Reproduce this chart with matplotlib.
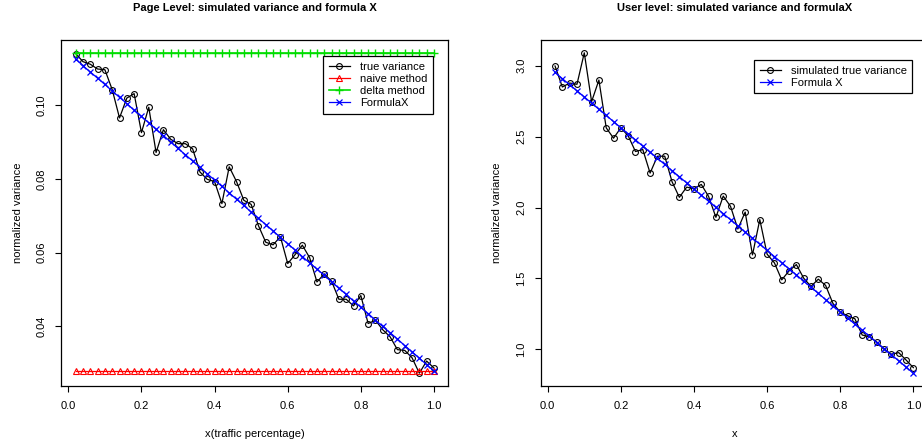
import matplotlib
matplotlib.use("Agg")
import matplotlib.pyplot as plt

plt.rcParams['font.family'] = ['Liberation Sans', 'DejaVu Sans']

x = [0.02, 0.04, 0.06, 0.08, 0.10, 0.12, 0.14, 0.16, 0.18, 0.20,
     0.22, 0.24, 0.26, 0.28, 0.30, 0.32, 0.34, 0.36, 0.38, 0.40,
     0.42, 0.44, 0.46, 0.48, 0.50, 0.52, 0.54, 0.56, 0.58, 0.60,
     0.62, 0.64, 0.66, 0.68, 0.70, 0.72, 0.74, 0.76, 0.78, 0.80,
     0.82, 0.84, 0.86, 0.88, 0.90, 0.92, 0.94, 0.96, 0.98, 1.00]

# Left panel (page level)
page_true = [0.1141, 0.1119, 0.1112, 0.1099, 0.1097, 0.1043, 0.0966, 0.1020, 0.1032, 0.0926,
             0.0995, 0.0872, 0.0934, 0.0908, 0.0896, 0.0896, 0.0882, 0.0819, 0.0799, 0.0793,
             0.0733, 0.0833, 0.0793, 0.0742, 0.0731, 0.0673, 0.0628, 0.0621, 0.0643, 0.0570,
             0.0594, 0.0620, 0.0586, 0.0520, 0.0542, 0.0522, 0.0473, 0.0473, 0.0455, 0.0483,
             0.0407, 0.0416, 0.0390, 0.0371, 0.0336, 0.0334, 0.0314, 0.0272, 0.0305, 0.0286]
page_naive = [0.0278] * 50
page_delta = [0.1143] * 50
page_formula = [0.1126, 0.1108, 0.1091, 0.1074, 0.1057, 0.1039, 0.1022, 0.1005, 0.0987, 0.0970,
                0.0953, 0.0935, 0.0918, 0.0901, 0.0883, 0.0866, 0.0849, 0.0832, 0.0814, 0.0797,
                0.0780, 0.0762, 0.0745, 0.0728, 0.0710, 0.0693, 0.0676, 0.0659, 0.0641, 0.0624,
                0.0607, 0.0589, 0.0572, 0.0555, 0.0538, 0.0520, 0.0503, 0.0486, 0.0468, 0.0451,
                0.0434, 0.0416, 0.0399, 0.0382, 0.0365, 0.0347, 0.0330, 0.0313, 0.0295, 0.0278]

# Right panel (user level)
user_true = [2.998, 2.850, 2.878, 2.869, 3.091, 2.747, 2.899, 2.562, 2.489, 2.562,
             2.506, 2.395, 2.409, 2.243, 2.362, 2.362, 2.182, 2.072, 2.144, 2.133,
             2.163, 2.078, 1.931, 2.081, 2.008, 1.849, 1.968, 1.666, 1.915, 1.671,
             1.610, 1.490, 1.553, 1.598, 1.502, 1.444, 1.495, 1.451, 1.324, 1.263,
             1.237, 1.216, 1.101, 1.089, 1.052, 1.001, 0.966, 0.977, 0.925, 0.871]
user_formula = [2.953, 2.909, 2.866, 2.823, 2.780, 2.736, 2.693, 2.650, 2.606, 2.563,
                2.520, 2.477, 2.433, 2.390, 2.347, 2.304, 2.260, 2.217, 2.174, 2.130,
                2.087, 2.044, 2.001, 1.957, 1.914, 1.871, 1.827, 1.784, 1.741, 1.698,
                1.654, 1.611, 1.568, 1.525, 1.481, 1.438, 1.395, 1.351, 1.308, 1.265,
                1.222, 1.178, 1.135, 1.092, 1.048, 1.005, 0.962, 0.919, 0.875, 0.832]

x_ticks = [0.0, 0.2, 0.4, 0.6, 0.8, 1.0]
x_ticklabels = ["0.0", "0.2", "0.4", "0.6", "0.8", "1.0"]
left_yticks = [0.04, 0.06, 0.08, 0.10]
left_yticklabels = ["0.04", "0.06", "0.08", "0.10"]
right_yticks = [1.0, 1.5, 2.0, 2.5, 3.0]
right_yticklabels = ["1.0", "1.5", "2.0", "2.5", "3.0"]

W, H = 922, 443
fig = plt.figure(figsize=(W / 100, H / 100), dpi=100)

def box(l, t, r, b):
    return [l / W, 1 - b / H, (r - l) / W, (b - t) / H]

ax1 = fig.add_axes(box(61.3, 40.0, 448.3, 386.0))
ax2 = fig.add_axes(box(540.7, 40.0, 927.7, 386.0))

FS = 8
GREEN = '#00DD00'
ms_kw = dict(markersize=4.2, markeredgewidth=0.8, linewidth=0.9)
x_kw = dict(markersize=4.0, markeredgewidth=0.9, linewidth=0.9)

ax1.plot(x, page_true, '-o', color='black', mfc='none', label='true variance', **ms_kw)
ax1.plot(x, page_naive, '-^', color='red', mfc='none', label='naive method', **ms_kw)
ax1.plot(x, page_delta, '-+', color=GREEN, label='delta method', markersize=6, markeredgewidth=1.0, linewidth=1.2)
ax1.plot(x, page_formula, '-x', color='blue', label='FormulaX', **x_kw)

ax2.plot(x, user_true, '-o', color='black', mfc='none', label='simulated true variance', **ms_kw)
ax2.plot(x, user_formula, '-x', color='blue', label='Formula X', **x_kw)

for ax, yt, ytl in ((ax1, left_yticks, left_yticklabels), (ax2, right_yticks, right_yticklabels)):
    ax.margins(0.04)
    ax.set_xticks(x_ticks)
    ax.set_xticklabels(x_ticklabels)
    ax.set_yticks(yt)
    ax.set_yticklabels(ytl, rotation=90, va='center')
    ax.tick_params(direction='out', length=4.5, width=0.8, pad=6, labelsize=FS, colors='black')
    for s in ax.spines.values():
        s.set_linewidth(0.9)
    ax.set_ylabel('normalized variance', fontsize=FS, labelpad=10)

ax1.set_xlabel('x(traffic percentage)', fontsize=FS, labelpad=13)
ax2.set_xlabel('x', fontsize=FS, labelpad=13)
ax1.set_title('Page Level: simulated variance and formula X', fontsize=FS, fontweight='bold', pad=21)
ax2.set_title('User level: simulated variance and formulaX', fontsize=FS, fontweight='bold', pad=21)

leg_kw = dict(fontsize=FS, frameon=True, fancybox=False, edgecolor='black', framealpha=1,
              handlelength=1.9, handletextpad=0.9, borderpad=0.5, labelspacing=0.2, borderaxespad=0)
l1 = ax1.legend(loc='upper left', bbox_to_anchor=((323 - 61.3) / 387, 1 - (56 - 40) / 346), **leg_kw)
l2 = ax2.legend(loc='upper left', bbox_to_anchor=((754 - 540.7) / 387, 1 - (60 - 40) / 346), **leg_kw)
for l in (l1, l2):
    l.get_frame().set_linewidth(0.9)

fig.savefig('out.png', dpi=100)
